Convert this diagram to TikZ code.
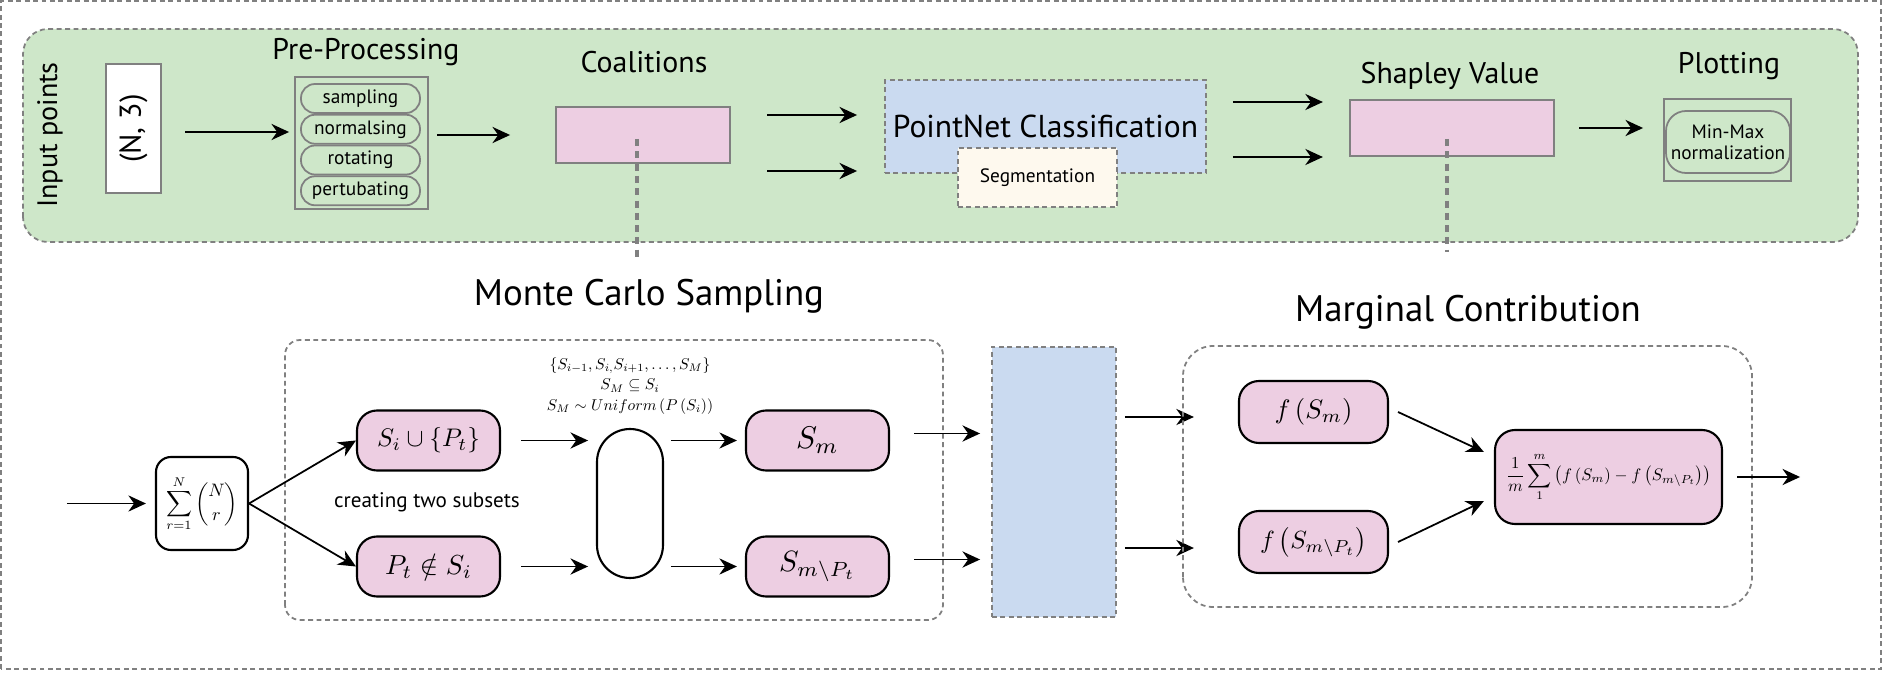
\documentclass[tikz,border=0pt]{standalone}
\usepackage[no-math]{fontspec}
\setmainfont{PT Sans}
\usepackage{amsmath}
\usepackage{amssymb}
\usepackage{graphicx}
\usetikzlibrary{arrows.meta,positioning,calc}
\definecolor{panelgreen}{RGB}{206,231,201}
\definecolor{boxpink}{RGB}{237,206,226}
\definecolor{netblue}{RGB}{202,218,240}
\definecolor{segcream}{RGB}{254,249,238}
\definecolor{framegray}{RGB}{128,128,128}

\tikzset{
  arr/.style={-{Stealth[length=5pt,width=4.6pt]}, line width=0.5pt},
  dashframe/.style={draw=framegray, dash pattern=on 1.4pt off 1pt, line width=0.5pt},
  dotline/.style={draw=framegray, dash pattern=on 2pt off 1.5pt, line width=0.9pt},
  graybox/.style={draw=framegray, line width=0.6pt, inner sep=0pt},
  pill/.style={draw=framegray, line width=0.5pt, rounded corners=0.14cm, inner sep=0pt,
    minimum width=1.19cm, minimum height=0.29cm, font=\fontsize{5.5}{6}\selectfont},
  mathbox/.style={draw=black, fill=boxpink, line width=0.6pt, rounded corners=0.2cm,
    inner sep=0pt, minimum width=1.43cm, minimum height=0.6cm},
  toptitle/.style={font=\fontsize{8.5}{9}\selectfont},
  bigtitle/.style={font=\fontsize{10.5}{11}\selectfont}
}

\begin{document}
\begin{tikzpicture}

\useasboundingbox (0,0) rectangle (18.84,6.72);

% Outer frame
\draw[dashframe] (0.01,0.03) rectangle (18.81,6.71);

% Top panel
\draw[dashframe, fill=panelgreen, rounded corners=0.25cm]
  (0.23,4.30) rectangle (18.58,6.43);

\node[rotate=90, font=\fontsize{8}{8}\selectfont] (inpts) at (0.50,5.37) {Input points};

\node[graybox, fill=white, minimum width=0.55cm, minimum height=1.29cm,
  font=\fontsize{8.6}{8.6}\selectfont] (npts) at (1.335,5.435) {\rotatebox{90}{(N, 3)}};

% Pre-processing stack
\node[graybox, minimum width=1.33cm, minimum height=1.32cm] (prep) at (3.615,5.29) {};
\node[pill] (samp) at (3.605,5.735) {sampling};
\node[pill, below=0pt of samp] (norm) {normalsing};
\node[pill, below=0pt of norm] (rot) {rotating};
\node[pill, below=0pt of rot] (pert) {pertubating};
\node[toptitle] at (3.66,6.20) {Pre-Processing};

\draw[arr] ([shift={(0.23,-0.035)}]npts.east) -- ++(1.04,0);
\draw[arr] ([shift={(0.08,0.08)}]prep.east) -- ++(0.73,0);

% Coalitions
\node[graybox, fill=boxpink, minimum width=1.74cm, minimum height=0.56cm] (coal) at (6.43,5.37) {};
\node[toptitle] at (6.44,6.10) {Coalitions};
\draw[dotline] ([shift={(-0.06,-0.04)}]coal.center) -- ++(0,-1.22);

\draw[arr] ([shift={(0.36,0.20)}]coal.east) -- ++(0.90,0);
\draw[arr] ([shift={(0.36,-0.36)}]coal.east) -- ++(0.90,0);

% Model
\node[dashframe, fill=netblue, minimum width=3.21cm, minimum height=0.93cm, inner sep=0pt,
  font=\fontsize{9}{9}\selectfont] (pnet) at (10.455,5.455) {PointNet Classification};
\node[dashframe, fill=segcream, minimum width=1.59cm, minimum height=0.59cm, inner sep=0pt,
  font=\fontsize{5.5}{6}\selectfont] (seg) at (10.375,4.945) {Segmentation};

\draw[arr] ([shift={(0.26,0.245)}]pnet.east) -- ++(0.90,0);
\draw[arr] ([shift={(0.26,-0.305)}]pnet.east) -- ++(0.90,0);

% Shapley value
\node[graybox, fill=boxpink, minimum width=2.04cm, minimum height=0.56cm] (shap) at (14.52,5.44) {};
\node[toptitle] at (14.50,5.96) {Shapley Value};
\draw[dotline] ([shift={(-0.05,-0.11)}]shap.center) -- ++(0,-1.13);

\draw[arr] ([xshift=0.24cm]shap.east) -- ++(0.64,0);

% Plotting
\node[graybox, minimum width=1.27cm, minimum height=0.82cm] (plot) at (17.275,5.32) {};
\node[pill, minimum width=1.24cm, minimum height=0.62cm, rounded corners=0.2cm,
  align=center] (mmax) at (17.28,5.30) {Min-Max\\normalization};
\node[toptitle] at (17.29,6.06) {Plotting};

% Monte Carlo sampling
\draw[dashframe, rounded corners=0.15cm] (2.85,0.52) rectangle (9.43,3.32);
\node[bigtitle] at (6.49,3.76) {Monte Carlo Sampling};

\node[draw=black, fill=white, line width=0.6pt, rounded corners=0.15cm, inner sep=0pt,
  minimum width=0.92cm, minimum height=0.93cm]
  (comb) at (2.02,1.685) {\resizebox{0.72cm}{!}{$\displaystyle\sum_{r=1}^{N}\binom{N}{r}$}};
\draw[arr] ([xshift=-0.88cm]comb.west) -- ([xshift=-0.09cm]comb.west);

\node[mathbox] (sunion) at (4.285,2.315) {\resizebox{1.03cm}{!}{$S_i\cup\{P_t\}$}};
\node[mathbox] (pnot) at (4.285,1.055) {\resizebox{0.87cm}{!}{$P_t\notin S_i$}};
\node[font=\fontsize{6}{6}\selectfont] at (4.27,1.70) {creating two subsets};

\draw[arr] (comb.east) -- (sunion.west);
\draw[arr] (comb.east) -- (pnot.west);

\node[draw=black, line width=0.6pt, rounded corners=0.33cm, inner sep=0pt,
  minimum width=0.66cm, minimum height=1.49cm] (mcpick) at (6.30,1.685) {};
\node[inner sep=0pt] (subs) at (6.30,2.86)
  {\resizebox{1.82cm}{!}{$\begin{array}{c}
     \left\{S_{i-1},S_{i,}S_{i+1},\ldots,S_M\right\}\\[1pt]
     S_M\subseteq S_i\\[1pt]
     S_M\sim Uniform\left(P\left(S_i\right)\right)
   \end{array}$}};

\draw[arr] ([xshift=0.20cm]sunion.east) -- ++(0.67,0);
\draw[arr] ([xshift=0.20cm]pnot.east) -- ++(0.67,0);

\node[mathbox] (sm) at (8.175,2.315) {\resizebox{0.43cm}{!}{$S_m$}};
\node[mathbox] (smp) at (8.175,1.055) {\resizebox{0.77cm}{!}{$S_{m\setminus P_t}$}};

\draw[arr] ([xshift=-0.74cm]sm.west) -- ([xshift=-0.08cm]sm.west);
\draw[arr] ([xshift=-0.74cm]smp.west) -- ([xshift=-0.08cm]smp.west);

\draw[arr] ([shift={(0.24,0.07)}]sm.east) -- ++(0.66,0);
\draw[arr] ([shift={(0.24,0.07)}]smp.east) -- ++(0.66,0);

% Model (bottom)
\node[dashframe, fill=netblue, minimum width=1.24cm, minimum height=2.70cm, inner sep=0pt]
  (pnetb) at (10.54,1.90) {};

\draw[arr] ([shift={(0.08,0.65)}]pnetb.east) -- ++(0.69,0);
\draw[arr] ([shift={(0.08,-0.66)}]pnetb.east) -- ++(0.69,0);

% Marginal contribution
\draw[dashframe, rounded corners=0.3cm] (11.83,0.65) rectangle (17.52,3.26);
\node[bigtitle] at (14.68,3.60) {Marginal Contribution};

\node[mathbox, minimum width=1.49cm, minimum height=0.62cm]
  (fsm) at (13.135,2.60) {\resizebox{0.78cm}{!}{$f\left(S_m\right)$}};
\node[mathbox, minimum width=1.49cm, minimum height=0.62cm]
  (fsp) at (13.135,1.30) {\resizebox{1.07cm}{!}{$f\left(S_{m\setminus P_t}\right)$}};

\node[mathbox, minimum width=2.27cm, minimum height=0.94cm]
  (marg) at (16.085,1.95)
  {\resizebox{2.05cm}{!}{$\displaystyle\frac{1}{m}\sum_{1}^{m}\left(f\left(S_m\right)-f\left(S_{m\setminus P_t}\right)\right)$}};

\draw[arr] ([xshift=0.09cm]fsm.east) -- ([shift={(-0.10,0.25)}]marg.west);
\draw[arr] ([xshift=0.09cm]fsp.east) -- ([shift={(-0.10,-0.24)}]marg.west);
\draw[arr] ([xshift=0.14cm]marg.east) -- ++(0.63,0);

\end{tikzpicture}
\end{document}
